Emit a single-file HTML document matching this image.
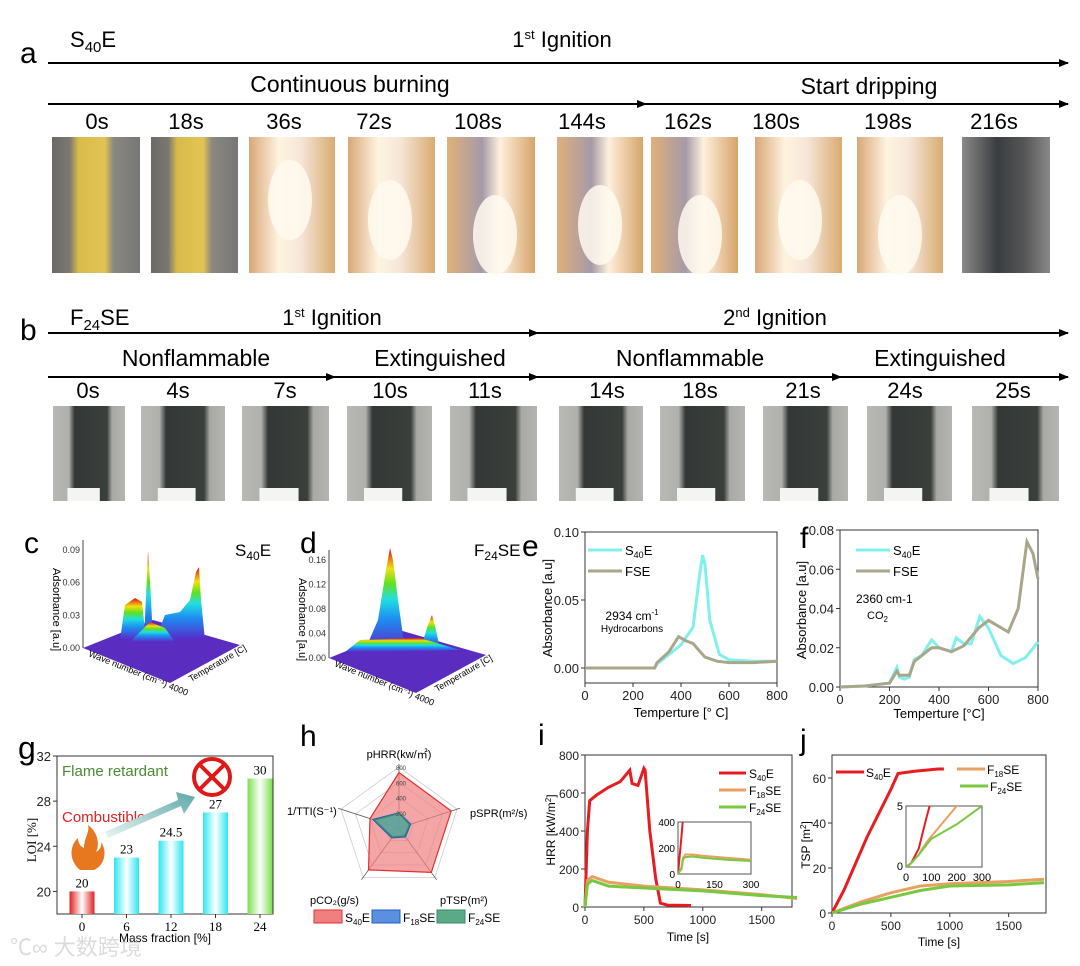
<!DOCTYPE html>
<html><head><meta charset="utf-8">
<style>
html,body{margin:0;padding:0;background:#fff;}
svg{display:block;font-family:"Liberation Sans",Arial,sans-serif;}
.serif{font-family:"Liberation Serif",serif;}
</style></head>
<body>
<svg id="fig" width="1080" height="966" viewBox="0 0 1080 966" xmlns="http://www.w3.org/2000/svg">
<defs>
<marker id="ah" markerWidth="10" markerHeight="8" refX="9" refY="4" orient="auto" markerUnits="userSpaceOnUse"><path d="M0,0 L10,4 L0,8 Z" fill="#000"/></marker>
<linearGradient id="gYel" x1="0" x2="1"><stop offset="0" stop-color="#6b6a66"/><stop offset="0.2" stop-color="#7a7870"/><stop offset="0.3" stop-color="#d9bb4a"/><stop offset="0.6" stop-color="#e2c455"/><stop offset="0.7" stop-color="#8a8880"/><stop offset="1" stop-color="#777"/></linearGradient>
<linearGradient id="gFire" x1="0" x2="1"><stop offset="0" stop-color="#d8a878"/><stop offset="0.35" stop-color="#fff4e0"/><stop offset="0.6" stop-color="#f6e6d8"/><stop offset="1" stop-color="#d9ab72"/></linearGradient>
<linearGradient id="gFire2" x1="0" x2="1"><stop offset="0" stop-color="#e0b07a"/><stop offset="0.4" stop-color="#a59aa8"/><stop offset="0.6" stop-color="#fff0dd"/><stop offset="1" stop-color="#d6a46a"/></linearGradient>
<linearGradient id="gAsh" x1="0" x2="1"><stop offset="0" stop-color="#8a8a88"/><stop offset="0.4" stop-color="#3a3d40"/><stop offset="0.7" stop-color="#555"/><stop offset="1" stop-color="#888"/></linearGradient>
<linearGradient id="gChar" x1="0" x2="1"><stop offset="0" stop-color="#b8b8b4"/><stop offset="0.22" stop-color="#b0b0ac"/><stop offset="0.3" stop-color="#333836"/><stop offset="0.75" stop-color="#3a3f3c"/><stop offset="0.82" stop-color="#a8a8a4"/><stop offset="1" stop-color="#b4b4b0"/></linearGradient>
<linearGradient id="gRed" x1="0" x2="1"><stop offset="0" stop-color="#e02020"/><stop offset="0.5" stop-color="#fff"/><stop offset="1" stop-color="#e02020"/></linearGradient>
<linearGradient id="gCyan" x1="0" x2="1"><stop offset="0" stop-color="#2ee6f0"/><stop offset="0.5" stop-color="#fff"/><stop offset="1" stop-color="#2ee6f0"/></linearGradient>
<linearGradient id="gGreen" x1="0" x2="1"><stop offset="0" stop-color="#7be04a"/><stop offset="0.5" stop-color="#fff"/><stop offset="1" stop-color="#7be04a"/></linearGradient>
<linearGradient id="gPeak" x1="0" y1="1" x2="0" y2="0"><stop offset="0" stop-color="#5a28c8"/><stop offset="0.3" stop-color="#1e8cf0"/><stop offset="0.5" stop-color="#20e0e0"/><stop offset="0.65" stop-color="#60e020"/><stop offset="0.8" stop-color="#f0e010"/><stop offset="1" stop-color="#e01010"/></linearGradient>
<linearGradient id="gArrow" x1="0" y1="1" x2="1" y2="0"><stop offset="0" stop-color="#e8f4f4"/><stop offset="1" stop-color="#5ea8a8"/></linearGradient>
</defs>
<g id="root"></g>
</svg>
<script>
// ---------- data ----------
const eTempS=[0,100,200,290,300,350,400,450,475,490,500,520,560,600,700,800];
const eValS=[0,0,0,0,0.003,0.01,0.017,0.03,0.065,0.083,0.076,0.035,0.01,0.006,0.005,0.005];
const eTempF=[0,100,200,290,300,350,390,420,450,480,500,550,600,700,800];
const eValF=[0,0,0,0,0.004,0.012,0.023,0.02,0.018,0.012,0.008,0.005,0.004,0.004,0.005];
const fTempS=[0,100,200,230,240,260,280,300,330,370,400,450,470,500,530,565,600,650,700,750,800];
const fValS=[0,0.0005,0.002,0.01,0.005,0.004,0.005,0.014,0.016,0.024,0.02,0.018,0.025,0.022,0.022,0.036,0.03,0.016,0.012,0.015,0.023];
const fTempF=[0,100,200,230,240,260,280,300,330,370,400,450,500,560,600,640,680,720,755,780,800];
const fValF=[0,0.0005,0.002,0.008,0.006,0.006,0.006,0.013,0.016,0.02,0.02,0.018,0.021,0.03,0.034,0.031,0.028,0.04,0.074,0.068,0.055];
const iTimeS=[0,20,40,100,200,300,380,400,450,500,510,550,600,640,700,900];
const iValS=[0,400,560,590,630,660,720,650,640,730,720,400,150,20,10,8];
const iTimeF=[0,20,60,200,500,1000,1500,1800];
const iValF18=[0,140,160,130,110,90,65,45];
const iValF24=[0,120,140,110,100,85,60,50];
const iInsT=[0,15,20,30,60,100,200,300];
const iInsS=[0,300,420,500,600,620,640,660];
const iInsF18=[0,50,120,150,150,140,125,110];
const iInsF24=[0,40,110,130,135,125,110,100];
const jTimeS=[0,100,300,500,560,700,900,950];
const jValS=[0,10,34,55,62,63,64,64];
const jTimeF=[0,250,500,750,1000,1500,1800];
const jValF18=[0,5,9,12,13,14,15];
const jValF24=[0,4,7,10,12,12.5,13.5];
const jInsT=[0,20,50,80,100,200,300];
const jInsS=[0,0.3,1.5,4,5.5,8,10];
const jInsF18=[0,0.3,1.0,2.0,2.5,5,6];
const jInsF24=[0,0.3,1.0,1.8,2.3,3.5,5];
const loiCats=["0","6","12","18","24"];
const loiVals=[20,23,24.5,27,30];
const loiLabels=["20","23","24.5","27","30"];
const radarAxes=["pHRR(kw/㎡)","pSPR(m²/s)","pTSP(m²)","pCO₂(g/s)","1/TTI(S⁻¹)"];
const radarS40=[0.91,0.9,0.9,0.85,0.5];
const radarF18=[0.25,0.2,0.18,0.2,0.45];
const radarF24=[0.24,0.18,0.16,0.18,0.42];

// ---------- helpers ----------
const NS="http://www.w3.org/2000/svg";
const root=document.getElementById('root');
function mk(tag,attrs,parent,txt){const e=document.createElementNS(NS,tag);for(const k in attrs)e.setAttribute(k,attrs[k]);if(txt!==undefined)e.textContent=txt;(parent||root).appendChild(e);return e;}
function lin(d0,d1,r0,r1){return v=>r0+(v-d0)*(r1-r0)/(d1-d0);}
function poly(xs,ys,sx,sy){return xs.map((x,i)=>(i?'L':'M')+sx(x).toFixed(1)+','+sy(ys[i]).toFixed(1)).join(' ');}

// ---------- panel a ----------
let g=mk('g',{});


mk('text',{x:20,y:63,'font-size':30},g,'a');
let t=mk('text',{x:70,y:47,'font-size':22},g);t.innerHTML='S<tspan font-size="15" dy="5">40</tspan><tspan dy="-5">E</tspan>';
t=mk('text',{x:562,y:47,'font-size':22,'text-anchor':'middle'},g);t.innerHTML='1<tspan font-size="13" dy="-8">st</tspan><tspan dy="8"> Ignition</tspan>';
mk('line',{x1:48,y1:63,x2:1068,y2:63,stroke:'#000','stroke-width':2,'marker-end':'url(#ah)'},g);
mk('text',{x:350,y:92,'font-size':23,'text-anchor':'middle'},g,'Continuous burning');
mk('text',{x:869,y:94,'font-size':23,'text-anchor':'middle'},g,'Start dripping');
mk('line',{x1:48,y1:104,x2:646,y2:104,stroke:'#000','stroke-width':2,'marker-end':'url(#ah)'},g);
mk('line',{x1:646,y1:104,x2:1068,y2:104,stroke:'#000','stroke-width':2,'marker-end':'url(#ah)'},g);
const aTimes=["0s","18s","36s","72s","108s","144s","162s","180s","198s","216s"];
const aTx=[97,186,284,374,478,582,688,776,888,994];
const aPx=[[52,140],[151,238],[249,335],[348,435],[447,535],[557,643],[651,738],[755,842],[857,943],[962,1050]];
const aFill=['url(#gYel)','url(#gYel)','url(#gFire)','url(#gFire)','url(#gFire2)','url(#gFire2)','url(#gFire2)','url(#gFire)','url(#gFire)','url(#gAsh)'];
aTimes.forEach((s,i)=>{
  const tt=mk('text',{x:aTx[i],y:129,'font-size':22,'text-anchor':'middle'},g,s);
  
  
  const r=mk('rect',{x:aPx[i][0],y:137,width:aPx[i][1]-aPx[i][0],height:136,fill:aFill[i]},g);
  
  
});
[[290,200],[390,220],[495,235],[600,225],[700,235],[800,220],[900,235]].forEach(p=>mk('ellipse',{cx:p[0],cy:p[1],rx:22,ry:40,fill:'#fffaf0',opacity:0.85},g));

// ---------- panel b ----------
g=mk('g',{});


mk('text',{x:20,y:340,'font-size':30},g,'b');
t=mk('text',{x:70,y:325,'font-size':22},g);t.innerHTML='F<tspan font-size="15" dy="5">24</tspan><tspan dy="-5">SE</tspan>';
t=mk('text',{x:332,y:325,'font-size':22,'text-anchor':'middle'},g);t.innerHTML='1<tspan font-size="13" dy="-8">st</tspan><tspan dy="8"> Ignition</tspan>';
t=mk('text',{x:775,y:325,'font-size':22,'text-anchor':'middle'},g);t.innerHTML='2<tspan font-size="13" dy="-8">nd</tspan><tspan dy="8"> Ignition</tspan>';
mk('line',{x1:48,y1:333,x2:538,y2:333,stroke:'#000','stroke-width':2,'marker-end':'url(#ah)'},g);
mk('line',{x1:538,y1:333,x2:1068,y2:333,stroke:'#000','stroke-width':2,'marker-end':'url(#ah)'},g);
[['Nonflammable',196],['Extinguished',440],['Nonflammable',690],['Extinguished',940]].forEach(a=>mk('text',{x:a[1],y:366,'font-size':23,'text-anchor':'middle'},g,a[0]));
[[48,335],[335,538],[538,841],[841,1068]].forEach(a=>mk('line',{x1:a[0],y1:377,x2:a[1],y2:377,stroke:'#000','stroke-width':2,'marker-end':'url(#ah)'},g));
const bTimes=["0s","4s","7s","10s","11s","14s","18s","21s","24s","25s"];
const bTx=[88,178,285,390,485,607,700,803,905,1013];
const bPx=[[53,125],[141,225],[242,329],[347,432],[450,537],[559,643],[660,745],[763,848],[867,952],[972,1059]];
bTimes.forEach((s,i)=>{
  const tt=mk('text',{x:bTx[i],y:398,'font-size':22,'text-anchor':'middle'},g,s);
  
  
  const r=mk('rect',{x:bPx[i][0],y:406,width:bPx[i][1]-bPx[i][0],height:95,fill:'url(#gChar)'},g);
  
  
  mk('rect',{x:bPx[i][0]+(bPx[i][1]-bPx[i][0])*0.2,y:488,width:(bPx[i][1]-bPx[i][0])*0.45,height:13,fill:'#f4f4f2'},g);
});

// ---------- panels c & d (3D) ----------
function panel3D(letter,lx,title,tx,x0,y0,ticks,peaks,axisTop){
  const gg=mk('g',{});
  
  
  mk('text',{x:lx,y:553,'font-size':30},gg,letter);
  const tt=mk('text',{x:tx,y:556,'font-size':17},gg);tt.innerHTML=title;
  mk('path',{d:`M${x0},${y0} L${x0+87},${y0+35} L${x0+157},${y0-3} L${x0+70},${y0-28} Z`,fill:'#5a2cc0'},gg);
  mk('line',{x1:x0,y1:y0,x2:x0,y2:axisTop,stroke:'#444','stroke-width':1},gg);
  ticks.forEach((s,i)=>{const yy=y0-i*(y0-axisTop-10)/(ticks.length-1);mk('text',{x:x0-3,y:yy+3,'font-size':9,'text-anchor':'end',fill:'#333'},gg,s);});
  mk('text',{x:0,y:0,'font-size':11,transform:`translate(${x0-30},${y0-80}) rotate(90)`},gg,'Adsorbance [a.u]');
  mk('text',{x:0,y:0,'font-size':9,transform:`translate(${x0+5},${y0+8}) rotate(22)`},gg,'Wave number (cm⁻¹)   4000');
  mk('text',{x:0,y:0,'font-size':9,transform:`translate(${x0+108},${y0+34}) rotate(-30)`},gg,'Temperature [C]');
  peaks.forEach(p=>mk('path',{d:p,fill:'url(#gPeak)'},gg));
}
panel3D('c',24,'S<tspan font-size="12" dy="4">40</tspan><tspan dy="-4">E</tspan>',235,83,648,['0.00','0.03','0.06','0.09'],
 ['M120,640 L125,605 L135,598 L142,602 L146,640 Z','M144,640 L147,575 L148,551 L150,580 L153,640 Z','M155,640 L165,615 L180,612 L190,600 L196,572 L199,567 L201,600 L205,640 Z','M130,642 L150,622 L165,628 L175,642 Z'],540);
panel3D('d',300,'F<tspan font-size="12" dy="4">24</tspan><tspan dy="-4">SE</tspan>',474,329,658,['0.00','0.04','0.08','0.12','0.16'],
 ['M365,650 L378,620 L386,570 L390,548 L393,560 L398,600 L405,650 Z','M420,650 L428,625 L432,615 L436,630 L440,650 Z','M345,652 L360,640 L420,638 L460,650 Z'],550);

// ---------- generic frame ----------
function frame(gg,x0,x1,y0,y1){mk('rect',{x:x0,y:y1,width:x1-x0,height:y0-y1,fill:'none',stroke:'#333','stroke-width':1},gg);}
function xticks(gg,vals,sx,y,fs){vals.forEach(v=>{mk('line',{x1:sx(v),y1:y,x2:sx(v),y2:y+4,stroke:'#333'},gg);mk('text',{x:sx(v),y:y+17,'font-size':fs,'text-anchor':'middle',fill:'#222'},gg,String(v));});}
function yticks(gg,vals,labels,sy,x,fs){vals.forEach((v,i)=>{mk('line',{x1:x,y1:sy(v),x2:x-4,y2:sy(v),stroke:'#333'},gg);mk('text',{x:x-6,y:sy(v)+5,'font-size':fs,'text-anchor':'end',fill:'#222'},gg,labels[i]);});}

// ---------- panel e ----------
g=mk('g',{});


(function(){
 const sx=lin(0,800,585,777),sy=lin(0,0.1,668,532);
 frame(g,585,777,683,532);
 mk('text',{x:522,y:556,'font-size':30},g,'e');
 xticks(g,[0,200,400,600,800],sx,683,13);
 yticks(g,[0,0.05,0.1],['0.00','0.05','0.10'],sy,585,13);
 mk('text',{x:681,y:717,'font-size':13,'text-anchor':'middle'},g,'Temperture [° C]');
 mk('text',{x:0,y:0,'font-size':13,'text-anchor':'middle',transform:'translate(552,608) rotate(-90)'},g,'Absorbance [a.u]');
 const l1=mk('path',{d:poly(eTempS,eValS,sx,sy),fill:'none',stroke:'#7ff0ec','stroke-width':3},g);
 
 
 const l2=mk('path',{d:poly(eTempF,eValF,sx,sy),fill:'none',stroke:'#a9a68a','stroke-width':3},g);
 
 
 mk('line',{x1:588,y1:550,x2:622,y2:550,stroke:'#7ff0ec','stroke-width':3},g);
 t=mk('text',{x:625,y:555,'font-size':13},g);t.innerHTML='S<tspan font-size="9" dy="3">40</tspan><tspan dy="-3">E</tspan>';
 mk('line',{x1:588,y1:571,x2:622,y2:571,stroke:'#a9a68a','stroke-width':3},g);
 mk('text',{x:625,y:576,'font-size':13},g,'FSE');
 t=mk('text',{x:632,y:620,'font-size':12,'text-anchor':'middle'},g);t.innerHTML='2934 cm<tspan font-size="8" dy="-5">-1</tspan>';
 mk('text',{x:632,y:632,'font-size':10,'text-anchor':'middle'},g,'Hydrocarbons');
})();

// ---------- panel f ----------
g=mk('g',{});


(function(){
 const sx=lin(0,800,840,1038),sy=lin(0,0.08,687,530);
 frame(g,840,1038,687,530);
 mk('text',{x:800,y:548,'font-size':30},g,'f');
 xticks(g,[0,200,400,600,800],sx,687,13);
 yticks(g,[0,0.02,0.04,0.06,0.08],['0.00','0.02','0.04','0.06','0.08'],sy,840,13);
 mk('text',{x:939,y:718,'font-size':13,'text-anchor':'middle'},g,'Temperture [°C]');
 mk('text',{x:0,y:0,'font-size':13,'text-anchor':'middle',transform:'translate(806,610) rotate(-90)'},g,'Absorbance [a.u]');
 const l1=mk('path',{d:poly(fTempS,fValS,sx,sy),fill:'none',stroke:'#7ff0ec','stroke-width':3},g);
 
 
 const l2=mk('path',{d:poly(fTempF,fValF,sx,sy),fill:'none',stroke:'#a9a68a','stroke-width':3},g);
 
 
 mk('line',{x1:856,y1:550,x2:890,y2:550,stroke:'#7ff0ec','stroke-width':3},g);
 t=mk('text',{x:893,y:555,'font-size':13},g);t.innerHTML='S<tspan font-size="9" dy="3">40</tspan><tspan dy="-3">E</tspan>';
 mk('line',{x1:856,y1:571,x2:890,y2:571,stroke:'#a9a68a','stroke-width':3},g);
 mk('text',{x:893,y:576,'font-size':13},g,'FSE');
 mk('text',{x:856,y:603,'font-size':12},g,'2360 cm-1');
 t=mk('text',{x:867,y:619,'font-size':11},g);t.innerHTML='CO<tspan font-size="8" dy="3">2</tspan>';
})();

// ---------- panel g ----------
g=mk('g',{});


(function(){
 const sy=lin(18,32,914,756);
 const sx=i=>82+i*44.5;
 frame(g,57,273,914,756);
 mk('text',{x:18,y:759,'font-size':32},g,'g');
 yticks(g,[20,24,28,32],['20','24','28','32'],sy,57,13);
 mk('text',{x:0,y:0,'font-size':13,'text-anchor':'middle',class:'serif',transform:'translate(36,840) rotate(-90)'},g,'LOI [%]');
 const fills=['url(#gRed)','url(#gCyan)','url(#gCyan)','url(#gCyan)','url(#gGreen)'];
 loiCats.forEach((c,i)=>{
   const b=mk('rect',{x:sx(i)-12.5,y:sy(loiVals[i]),width:25,height:914-sy(loiVals[i]),fill:fills[i]},g);
   
   
   mk('text',{x:sx(i),y:sy(loiVals[i])-4,'font-size':13,'text-anchor':'middle',class:'serif'},g,loiLabels[i]);
   mk('line',{x1:sx(i),y1:914,x2:sx(i),y2:918,stroke:'#333'},g);
   mk('text',{x:sx(i),y:931,'font-size':13,'text-anchor':'middle',class:'serif'},g,c);
 });
 mk('text',{x:165,y:942,'font-size':12,'text-anchor':'middle'},g,'Mass fraction [%]');
 mk('text',{x:62,y:776,'font-size':15,fill:'#4a8a30'},g,'Flame retardant');
 mk('text',{x:62,y:822,'font-size':15,fill:'#e42020'},g,'Combustible');
 mk('path',{d:'M105,832 L178,800 L176,792 L195,797 L184,814 L181,806 L108,838 Z',fill:'url(#gArrow)'},g);
 mk('path',{d:'M80,870 C68,860 70,845 78,838 C78,846 84,848 84,848 C84,838 90,832 88,825 C98,832 100,845 96,852 C100,850 102,846 101,842 C108,852 104,866 94,870 Z',fill:'#e87820'},g);
 mk('circle',{cx:212,cy:777,r:18,fill:'none',stroke:'#e01818','stroke-width':4},g);
 mk('path',{d:'M200,765 L224,789 M224,765 L200,789',stroke:'#e01818','stroke-width':4},g);
})();

// ---------- panel h radar ----------
g=mk('g',{});


(function(){
 const cx=399,cy=828,R=61;
 mk('text',{x:300,y:746,'font-size':30},g,'h');
 const ang=i=>(-90+72*i)*Math.PI/180;
 const pt=(i,r)=>[cx+R*r*Math.cos(ang(i)),cy+R*r*Math.sin(ang(i))];
 [0.25,0.5,0.75,1].forEach(r=>{mk('path',{d:radarAxes.map((a,i)=>(i?'L':'M')+pt(i,r).join(',')).join(' ')+'Z',fill:'none',stroke:'#ccc','stroke-width':0.8},g);});
 radarAxes.forEach((a,i)=>{const p=pt(i,1.05);mk('line',{x1:cx,y1:cy,x2:p[0],y2:p[1],stroke:'#555','stroke-width':0.8},g);});
 function ser(vals,fill,stroke,name){const s=mk('path',{d:vals.map((v,i)=>(i?'L':'M')+pt(i,v).map(n=>n.toFixed(1)).join(',')).join(' ')+'Z',fill:fill,stroke:stroke,'stroke-width':1.2,'fill-opacity':0.7},g);}
 ser(radarS40,'#f08080','#e03030','radar-s40e');
 ser(radarF18,'#5a90e0','#2060c0','radar-f18se');
 ser(radarF24,'#5aaa88','#3a8a68','radar-f24se');
 ['800','600','400','200'].forEach((s,k)=>mk('text',{x:cx+2,y:cy-R*(1-k*0.25)+3,'font-size':6,'text-anchor':'middle',fill:'#444'},g,s));
 mk('text',{x:cx,y:758,'font-size':11,'text-anchor':'middle'},g,'pHRR(kw/㎡)');
 mk('text',{x:470,y:817,'font-size':11,'text-anchor':'start'},g,'pSPR(m²/s)');
 mk('text',{x:287,y:815,'font-size':11},g,'1/TTI(S⁻¹)');
 mk('text',{x:310,y:904,'font-size':11},g,'pCO₂(g/s)');
 mk('text',{x:440,y:904,'font-size':11},g,'pTSP(m²)');
 const leg=[['#f08080','#e03030','S','40','E',314],['#5a90e0','#2060c0','F','18','SE',372],['#5aaa88','#3a8a68','F','24','SE',437]];
 leg.forEach(l=>{mk('rect',{x:l[5],y:910,width:28,height:13,fill:l[0],stroke:l[1]},g);const tt=mk('text',{x:l[5]+31,y:922,'font-size':12},g);tt.innerHTML=l[2]+'<tspan font-size="8" dy="3">'+l[3]+'</tspan><tspan dy="-3">'+l[4]+'</tspan>';});
})();

// ---------- panel i ----------
g=mk('g',{});


(function(){
 const sx=lin(0,1800,585,797),sy=lin(0,800,907,755);
 frame(g,585,792,907,755);
 mk('text',{x:538,y:745,'font-size':30},g,'i');
 xticks(g,[0,500,1000,1500],sx,907,12);
 yticks(g,[0,200,400,600,800],['0','200','400','600','800'],sy,585,12);
 mk('text',{x:688,y:941,'font-size':12,'text-anchor':'middle'},g,'Time [s]');
 t=mk('text',{x:0,y:0,'font-size':12,'text-anchor':'middle',transform:'translate(555,830) rotate(-90)'},g);t.innerHTML='HRR [kW/m<tspan font-size="8" dy="-4">2</tspan><tspan dy="4">]</tspan>';
 const cl=[['#e81c20',iTimeS,iValS,'line-s40e'],['#e8a060',iTimeF,iValF18,'line-f18se'],['#78c840',iTimeF,iValF24,'line-f24se']];
 cl.forEach(c=>{const p=mk('path',{d:poly(c[1],c[2],sx,sy),fill:'none',stroke:c[0],'stroke-width':3},g);});
 const legs=[['#e81c20','S','40','E',773],['#e8a060','F','18','SE',790],['#78c840','F','24','SE',807]];
 legs.forEach(l=>{mk('line',{x1:719,y1:l[4],x2:746,y2:l[4],stroke:l[0],'stroke-width':3},g);const tt=mk('text',{x:749,y:l[4]+5,'font-size':12},g);tt.innerHTML=l[1]+'<tspan font-size="8" dy="3">'+l[2]+'</tspan><tspan dy="-3">'+l[3]+'</tspan>';});
 const ix=lin(0,300,678,751),iy=lin(0,400,874,822);
 mk('rect',{x:678,y:822,width:73,height:52,fill:'#fff',stroke:'#555'},g);
 mk('clipPath',{id:'ci'},g);mk('rect',{x:678,y:822,width:73,height:52},document.getElementById('ci'));
 const ig=mk('g',{'clip-path':'url(#ci)'},g);
 [['#e81c20',iInsS],['#e8a060',iInsF18],['#78c840',iInsF24]].forEach(c=>mk('path',{d:poly(iInsT,c[1],ix,iy),fill:'none',stroke:c[0],'stroke-width':2},ig));
 [0,150,300].forEach(v=>mk('text',{x:ix(v),y:888,'font-size':10,'text-anchor':'middle'},g,String(v)));
 [[0,'0'],[200,'200'],[400,'400']].forEach(v=>mk('text',{x:675,y:iy(v[0])+4,'font-size':10,'text-anchor':'end'},g,v[1]));
})();

// ---------- panel j ----------
g=mk('g',{});


(function(){
 const sx=lin(0,1800,832,1044),sy=lin(0,60,913,778);
 frame(g,832,1046,913,755);
 mk('text',{x:800,y:750,'font-size':30},g,'j');
 xticks(g,[0,500,1000,1500],sx,913,12);
 yticks(g,[0,20,40,60],['0','20','40','60'],sy,832,12);
 mk('text',{x:939,y:946,'font-size':12,'text-anchor':'middle'},g,'Time [s]');
 t=mk('text',{x:0,y:0,'font-size':12,'text-anchor':'middle',transform:'translate(810,845) rotate(-90)'},g);t.innerHTML='TSP [m<tspan font-size="8" dy="-4">2</tspan><tspan dy="4">]</tspan>';
 const cl=[['#e81c20',jTimeS,jValS,'line-s40e'],['#e8a060',jTimeF,jValF18,'line-f18se'],['#78c840',jTimeF,jValF24,'line-f24se']];
 cl.forEach(c=>{const p=mk('path',{d:poly(c[1],c[2],sx,sy),fill:'none',stroke:c[0],'stroke-width':3},g);});
 mk('line',{x1:836,y1:772,x2:864,y2:772,stroke:'#e81c20','stroke-width':3},g);
 let tt=mk('text',{x:866,y:777,'font-size':12},g);tt.innerHTML='S<tspan font-size="8" dy="3">40</tspan><tspan dy="-3">E</tspan>';
 mk('line',{x1:957,y1:769,x2:985,y2:769,stroke:'#e8a060','stroke-width':3},g);
 tt=mk('text',{x:987,y:774,'font-size':12},g);tt.innerHTML='F<tspan font-size="8" dy="3">18</tspan><tspan dy="-3">SE</tspan>';
 mk('line',{x1:960,y1:786,x2:988,y2:786,stroke:'#78c840','stroke-width':3},g);
 tt=mk('text',{x:990,y:791,'font-size':12},g);tt.innerHTML='F<tspan font-size="8" dy="3">24</tspan><tspan dy="-3">SE</tspan>';
 const ix=lin(0,300,906,982),iy=lin(0,5,867,806);
 mk('rect',{x:906,y:806,width:76,height:61,fill:'#fff',stroke:'#555'},g);
 mk('clipPath',{id:'cj'},g);mk('rect',{x:906,y:806,width:76,height:61},document.getElementById('cj'));
 const ig=mk('g',{'clip-path':'url(#cj)'},g);
 [['#e81c20',jInsS],['#e8a060',jInsF18],['#78c840',jInsF24]].forEach(c=>mk('path',{d:poly(jInsT,c[1],ix,iy),fill:'none',stroke:c[0],'stroke-width':2},ig));
 [0,100,200,300].forEach(v=>mk('text',{x:ix(v),y:881,'font-size':11,'text-anchor':'middle'},g,String(v)));
 mk('text',{x:903,y:810,'font-size':11,'text-anchor':'end'},g,'5');
 mk('text',{x:903,y:870,'font-size':11,'text-anchor':'end'},g,'0');
})();

// watermark
g=mk('g',{opacity:0.35});


mk('text',{x:10,y:955,'font-size':22,fill:'#999','font-family':'"Liberation Sans","Noto Sans CJK SC",sans-serif'},g,'℃∞ 大数跨境');
</script>
</body></html>
